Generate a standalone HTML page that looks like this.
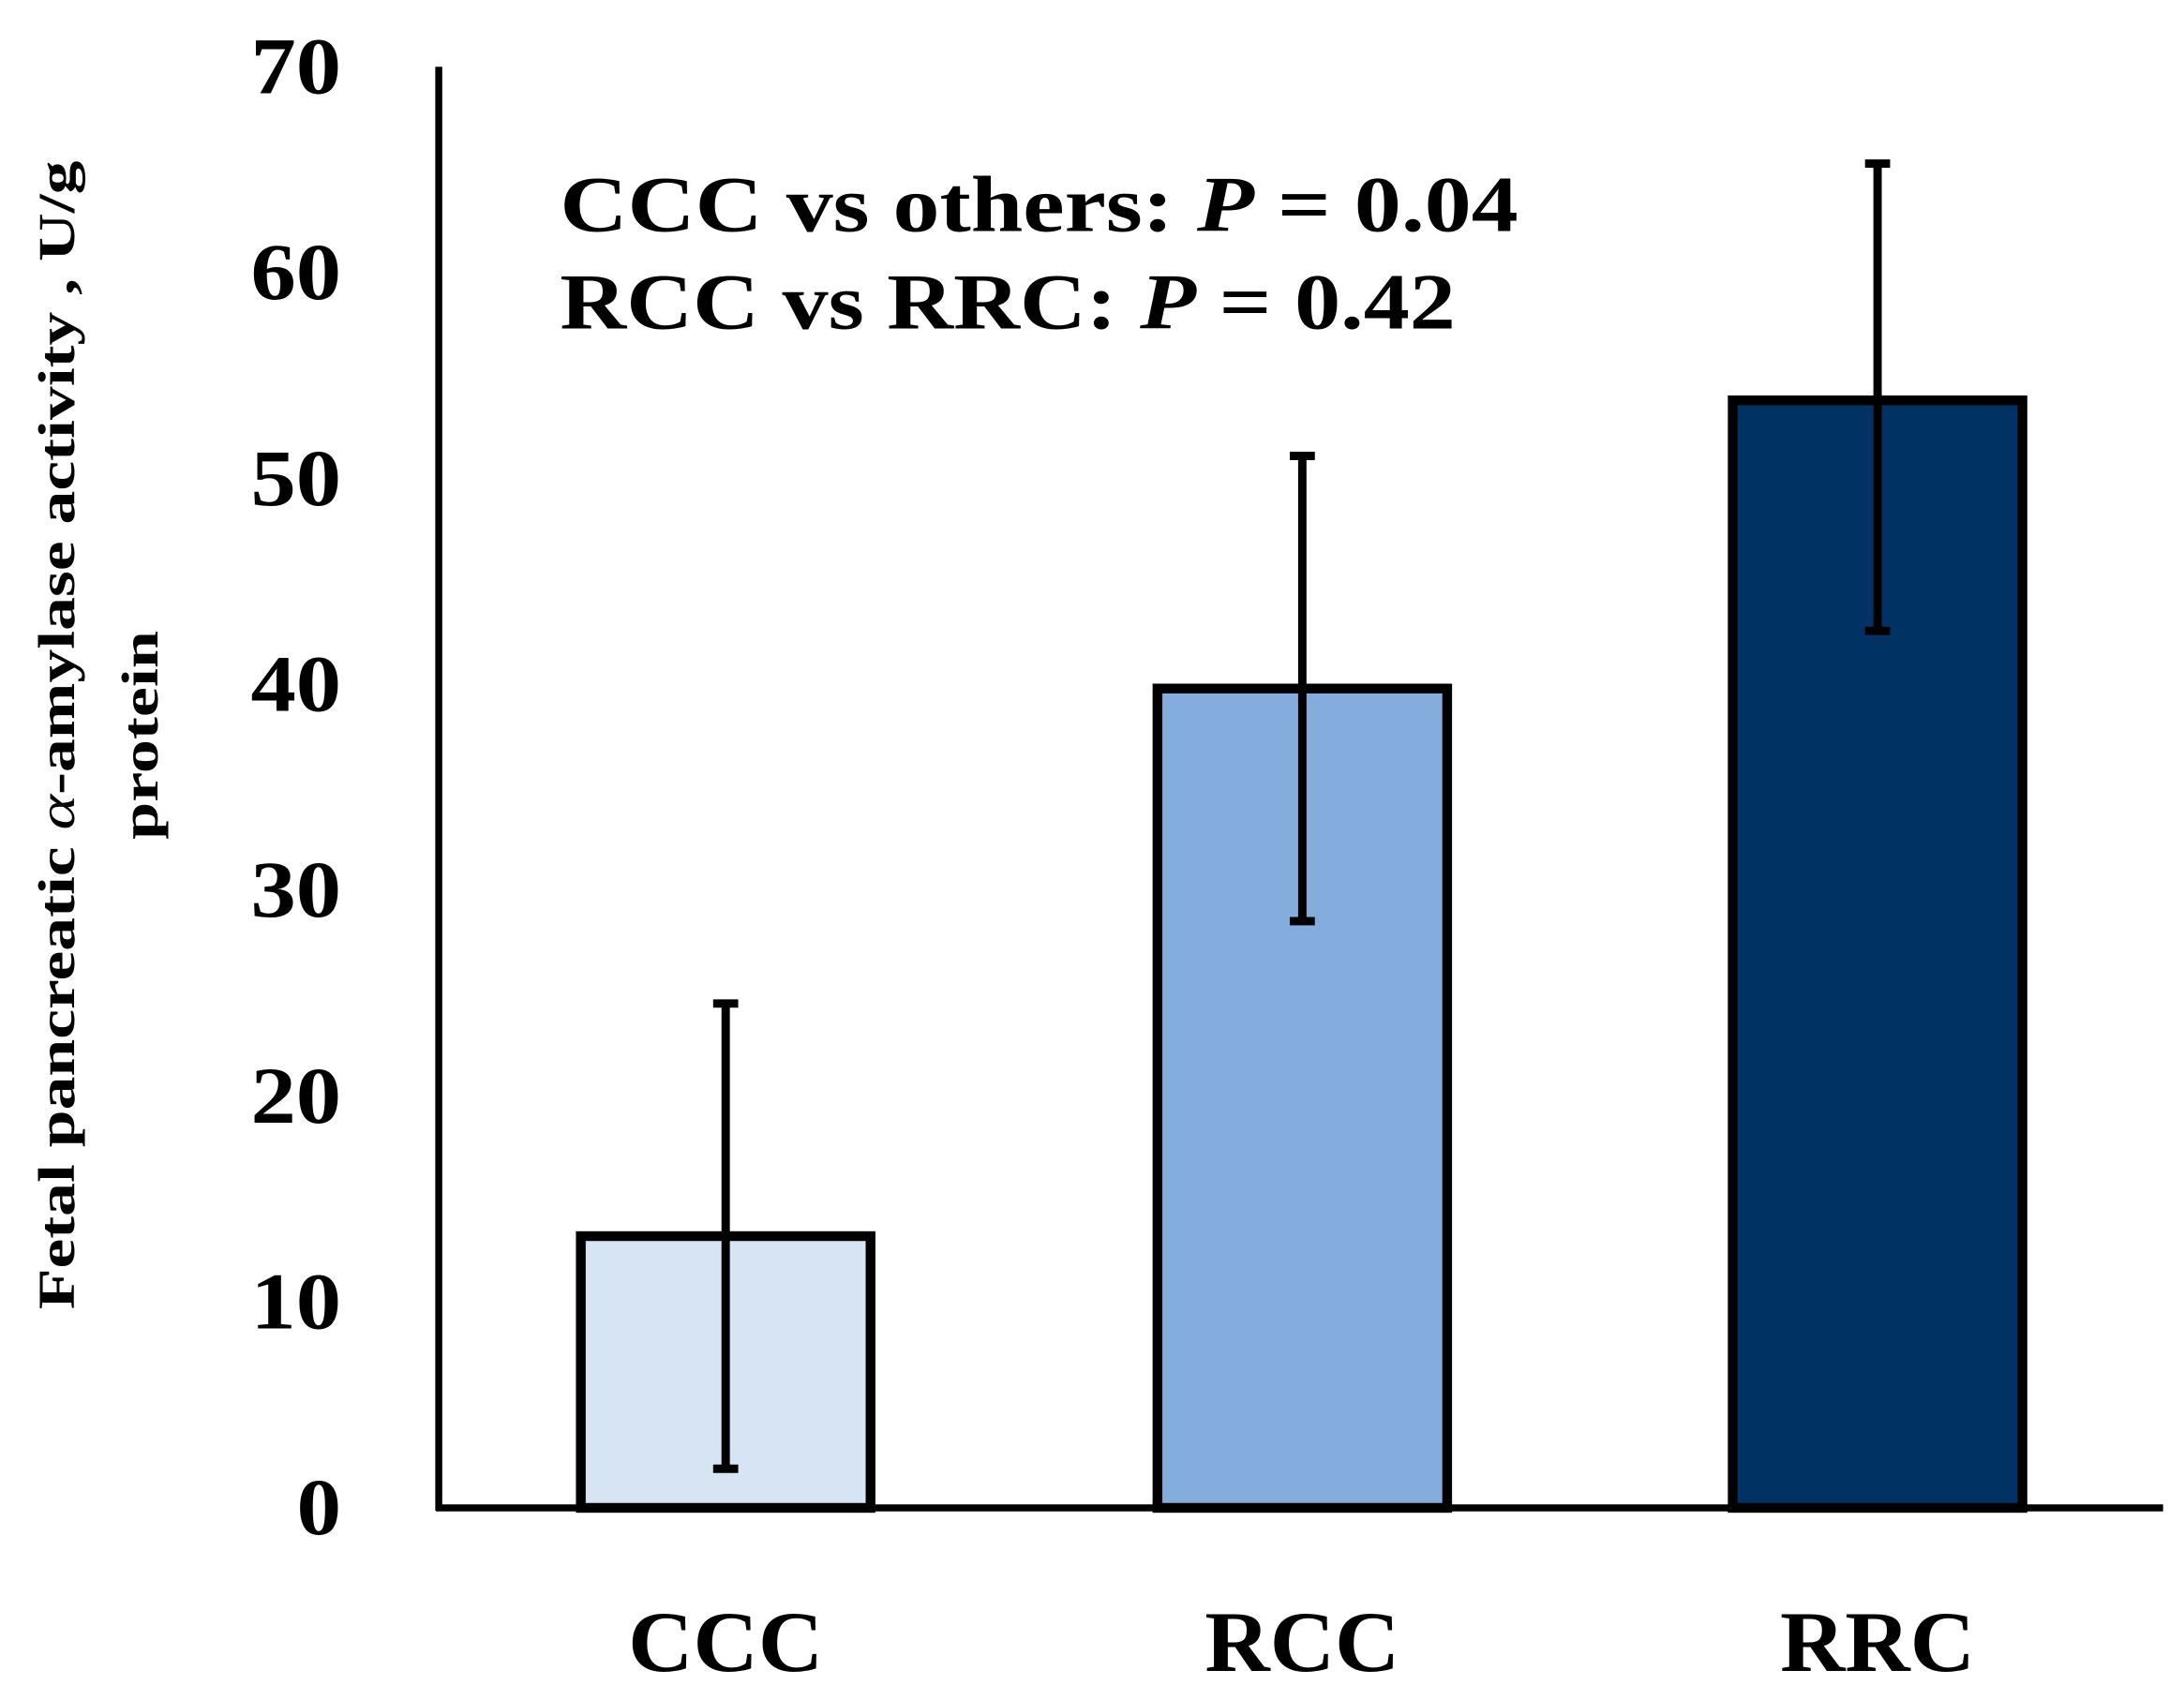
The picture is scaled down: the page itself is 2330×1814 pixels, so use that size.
<!DOCTYPE html>
<html><head><meta charset="utf-8"><style>
html,body{margin:0;padding:0;background:#fff;}
svg{display:block;}
text{font-family:"Liberation Serif",serif;font-weight:bold;fill:#000;}
</style></head><body>
<svg id="chart" width="2330" height="1814" viewBox="0 0 1568 1221" preserveAspectRatio="none" xmlns="http://www.w3.org/2000/svg">
<g id="axes"></g>
<g id="bars"></g>
<g id="labels"></g>
<text transform="translate(53,528) rotate(-90)" text-anchor="middle" font-size="37" textLength="825" lengthAdjust="spacingAndGlyphs">Fetal pancreatic <tspan font-style="italic" font-weight="normal">α</tspan>-amylase activity , U/g</text>
<text transform="translate(113,528) rotate(-90)" text-anchor="middle" font-size="37" textLength="150" lengthAdjust="spacingAndGlyphs">protein</text>
<text x="402" y="166" font-size="57" textLength="688" lengthAdjust="spacingAndGlyphs">CCC vs others: <tspan font-style="italic">P</tspan> = 0.04</text>
<text x="402" y="236" font-size="57" textLength="643" lengthAdjust="spacingAndGlyphs">RCC vs RRC: <tspan font-style="italic">P</tspan> = 0.42</text>
</svg>
<script>
const categories = ["CCC","RCC","RRC"];
const means = [13.2, 39.8, 53.8];
const errHigh = [24.5, 51.1, 65.3];
const errLow = [1.9, 28.5, 42.6];
const yTicks = [0,10,20,30,40,50,60,70];
const colors = ["#d6e4f4","#84acdc","#003263"];

const NS="http://www.w3.org/2000/svg";
const x0=315, x1=1553, yBase=1083, yTop=48, yMax=70;
function y(v){return yBase-(v/yMax)*(yBase-yTop);}
const centers=[521,935,1348];
const barW=208;
function mk(tag,attrs,parent){const e=document.createElementNS(NS,tag);for(const k in attrs)e.setAttribute(k,attrs[k]);parent.appendChild(e);return e;}
const axes=document.getElementById('axes'), bars=document.getElementById('bars'), labels=document.getElementById('labels');

yTicks.forEach(t=>{
  const s=String(t);
  const e=mk('text',{x:245-(s.length>1?65:32),y:y(t)+19,'font-size':'58',textLength:(s.length>1?65:32),lengthAdjust:'spacingAndGlyphs'},labels);
  e.textContent=s;
  
  
});
categories.forEach((c,i)=>{
  const cx=centers[i];
  const r=mk('rect',{x:cx-barW/2,y:y(means[i]),width:barW,height:yBase-y(means[i]),fill:colors[i],stroke:'#000','stroke-width':7},bars);
  
  
  const g=mk('g',{stroke:'#000','stroke-width':6},bars);
  
  
  mk('line',{x1:cx,x2:cx,y1:y(errHigh[i]),y2:y(errLow[i])},g);
  mk('line',{x1:cx-9,x2:cx+9,y1:y(errHigh[i]),y2:y(errHigh[i])},g);
  mk('line',{x1:cx-9,x2:cx+9,y1:y(errLow[i]),y2:y(errLow[i])},g);
  const t=mk('text',{x:cx-70,y:1200,'font-size':'62',textLength:140,lengthAdjust:'spacingAndGlyphs'},labels);
  t.textContent=c;
  
  
});
const ya=mk('line',{x1:x0,x2:x0,y1:yTop,y2:yBase+2,stroke:'#000','stroke-width':5},axes);


const xa=mk('line',{x1:x0-2,x2:x1,y1:yBase,y2:yBase,stroke:'#000','stroke-width':5},axes);


</script>
</body></html>
